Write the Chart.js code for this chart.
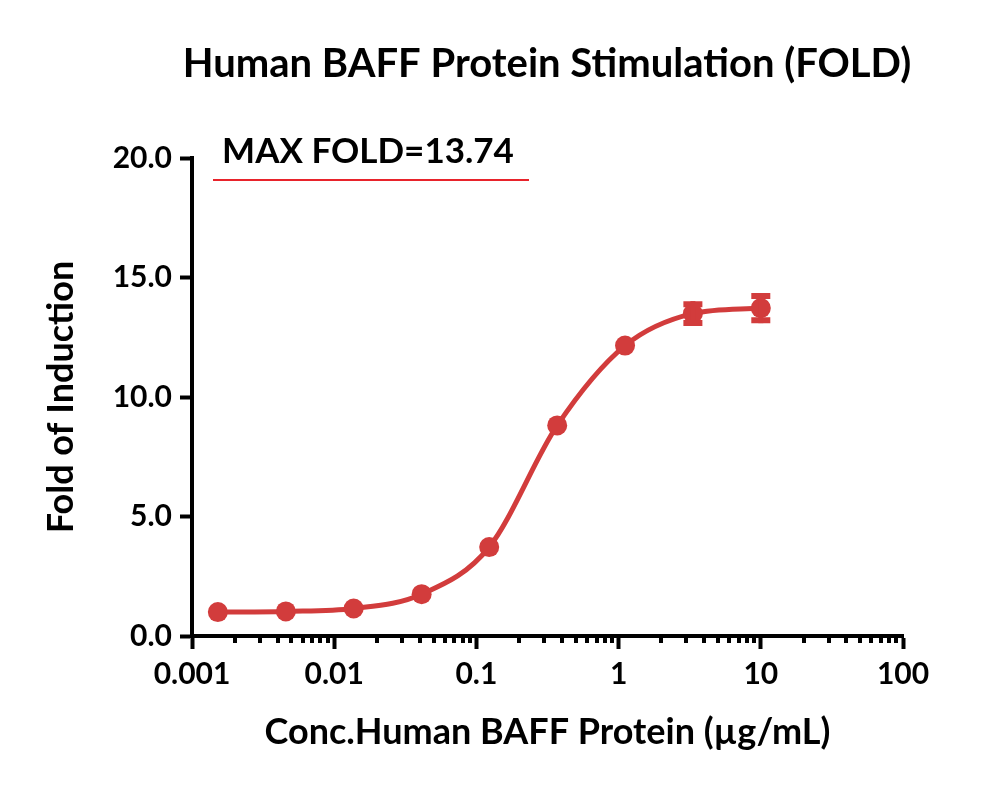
<!DOCTYPE html>
<html lang="en">
<head>
    <meta charset="UTF-8">
    <title>Human BAFF Protein Stimulation (FOLD)</title>
    <script src="https://cdn.jsdelivr.net/npm/chart.js"></script>
    <style>
        body {
            margin: 0;
            background: #ffffff;
        }
        #wrap {
            width: 1000px;
            height: 785px;
        }
    </style>
</head>
<body>
    <div id="wrap"><canvas id="grafico" width="1000" height="785"></canvas></div>
    <script>
    // concentrations (ug/mL), 3-fold dilution series
    const concs = [0.00152, 0.00457, 0.0137, 0.0412, 0.123, 0.370, 1.11, 3.33, 10];
    const folds = [1.00, 1.03, 1.15, 1.75, 3.72, 8.81, 12.15, 13.49, 13.72];
    const errs = [0, 0, 0, 0, 0, 0, 0, 0.52, 0.63];
    const xTicks = [0.001, 0.01, 0.1, 1, 10, 100];
    const yTicks = [0, 5, 10, 15, 20];

    const red = "#d23c3c";
    const fontFam = "Lato, 'Open Sans', sans-serif";

    const extras = {
        id: "extras",
        afterDatasetsDraw(chart) {
            const ctx = chart.ctx;
            const xs = chart.scales.x, ys = chart.scales.y;
            ctx.save();
            ctx.strokeStyle = red;
            // error bars
            for (let i = 0; i < concs.length; i++) {
                if (!errs[i]) continue;
                const px = xs.getPixelForValue(concs[i]);
                const top = ys.getPixelForValue(folds[i] + errs[i]);
                const bot = ys.getPixelForValue(folds[i] - errs[i]);
                ctx.lineWidth = 5;
                ctx.beginPath();
                ctx.moveTo(px, top); ctx.lineTo(px, bot);
                ctx.stroke();
                ctx.lineWidth = 6;
                ctx.beginPath();
                ctx.moveTo(px - 9.5, top + 3); ctx.lineTo(px + 9.5, top + 3);
                ctx.moveTo(px - 9.5, bot - 3); ctx.lineTo(px + 9.5, bot - 3);
                ctx.stroke();
            }
            ctx.restore();
        },
        afterDraw(chart) {
            const ctx = chart.ctx;
            const xs = chart.scales.x;
            const area = chart.chartArea;
            ctx.save();
            // minor log ticks
            ctx.strokeStyle = "#000";
            ctx.lineWidth = 4;
            ctx.beginPath();
            for (let d = 0.001; d < 100; d *= 10) {
                for (let m = 2; m <= 9; m++) {
                    const px = Math.round(xs.getPixelForValue(d * m));
                    ctx.moveTo(px, area.bottom);
                    ctx.lineTo(px, area.bottom + 7);
                }
            }
            ctx.stroke();
            // title
            ctx.fillStyle = "#000";
            ctx.textAlign = "center";
            ctx.textBaseline = "middle";
            ctx.font = "bold 40px " + fontFam;
            ctx.fillText("Human BAFF Protein Stimulation (FOLD)", 547, 64);
            // max fold label
            ctx.font = "bold 35px " + fontFam;
            ctx.fillText("MAX FOLD=13.74", 368, 152);
            ctx.strokeStyle = "#e8232b";
            ctx.lineWidth = 2;
            ctx.beginPath();
            ctx.moveTo(213, 180);
            ctx.lineTo(529, 180);
            ctx.stroke();
            ctx.restore();
        }
    };

    new Chart(document.getElementById("grafico"), {
        type: "line",
        data: {
            datasets: [{
                data: concs.map((c, i) => ({ x: c, y: folds[i] })),
                borderColor: red,
                backgroundColor: red,
                borderWidth: 5,
                pointRadius: 10,
                pointBorderWidth: 0,
                cubicInterpolationMode: "monotone"
            }]
        },
        options: {
            responsive: false,
            animation: false,
            layout: { padding: { top: 158, right: 97, left: 0, bottom: 0 } },
            plugins: { legend: { display: false }, tooltip: { enabled: false } },
            scales: {
                x: {
                    type: "logarithmic",
                    min: 0.001,
                    max: 100,
                    afterBuildTicks: (s) => { s.ticks = xTicks.map(v => ({ value: v })); },
                    afterFit: (s) => { s.height = 785 - 636; },
                    border: { display: true, color: "#000", width: 4 },
                    grid: { display: true, drawOnChartArea: false, drawTicks: true, tickLength: 13, tickWidth: 4, tickColor: "#000" },
                    ticks: {
                        color: "#000",
                        padding: 7,
                        maxRotation: 0,
                        autoSkip: false,
                        font: { family: fontFam, size: 30, weight: "bold" },
                        callback: (v) => String(v)
                    },
                    title: {
                        display: true,
                        text: "Conc.Human BAFF Protein (µg/mL)",
                        color: "#000",
                        font: { family: fontFam, size: 36, weight: "bold" },
                        padding: { top: 0, bottom: 31 }
                    }
                },
                y: {
                    min: 0,
                    max: 20,
                    afterBuildTicks: (s) => { s.ticks = yTicks.map(v => ({ value: v })); },
                    afterFit: (s) => { s.width = 192; },
                    border: { display: true, color: "#000", width: 4 },
                    grid: { display: true, drawOnChartArea: false, drawTicks: true, tickLength: 12, tickWidth: 4, tickColor: "#000" },
                    ticks: {
                        color: "#000",
                        padding: 8,
                        font: { family: fontFam, size: 30, weight: "bold" },
                        callback: (v) => v.toFixed(1)
                    },
                    title: {
                        display: true,
                        text: "Fold of Induction",
                        color: "#000",
                        font: { family: fontFam, size: 36, weight: "bold" },
                        padding: { top: 40, bottom: 0 }
                    }
                }
            }
        },
        plugins: [extras]
    });
    </script>
</body>
</html>
